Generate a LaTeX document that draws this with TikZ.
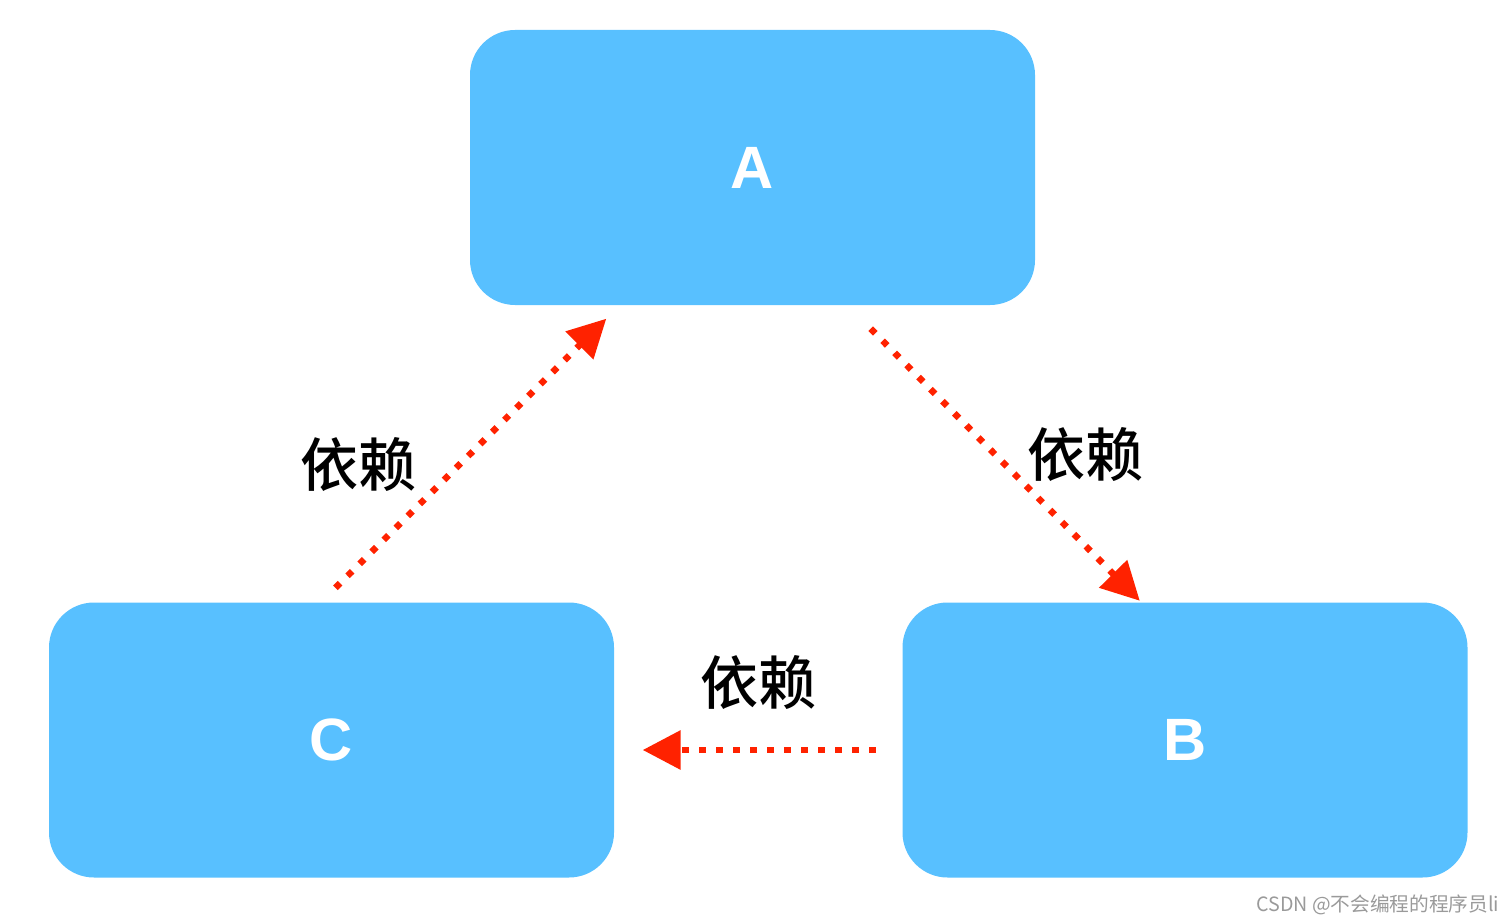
\documentclass[tikz,border=0pt]{standalone}
\usepackage{fontspec}
\setmainfont{Liberation Sans}
\newfontfamily\cjk{Noto Sans CJK SC}
\newfontfamily\cjkmed{Noto Sans CJK SC Medium}
\usetikzlibrary{arrows.meta}
\definecolor{boxblue}{HTML}{58C0FF}
\definecolor{depred}{HTML}{FF2200}
\definecolor{mark}{HTML}{9A9A9A}
\tikzset{
  box/.style={fill=boxblue, rounded corners=0.45cm, minimum width=5.65cm, minimum height=2.75cm, inner sep=0pt,
    text=white, font=\bfseries\fontsize{17}{20}\selectfont},
  dep/.style={draw=depred, line width=0.065cm, line cap=butt, dash pattern=on 0.065cm off 0.105cm,
    -{Triangle[length=0.38cm,width=0.38cm]}},
  lab/.style={text=black, font=\cjkmed\fontsize{16.5}{20}\selectfont},
  wm/.style={text=mark, font=\cjk\fontsize{5.6}{7}\selectfont, anchor=east, inner sep=0pt},
}
\begin{document}
\begin{tikzpicture}
  \useasboundingbox (0,0) rectangle (15.04,-9.24);

  \node[box] (A) at (7.525,-1.675) {A};
  \node[box] (C) at (3.315,-7.40) {C};
  \node[box] (B) at (11.85,-7.40) {B};

  % arrow ends, a little off the boxes
  \coordinate (caS) at ([shift={(0.04,0.14)}]C.north);
  \coordinate (caE) at ([shift={(1.37,-0.13)}]A.south west);
  \coordinate (abS) at ([shift={(-1.65,-0.23)}]A.south east);
  \coordinate (abE) at ([shift={(2.38,0.01)}]B.north west);
  \coordinate (bcS) at ([shift={(-0.26,-0.10)}]B.west);
  \coordinate (bcE) at ([shift={(0.28,-0.10)}]C.east);

  \draw[dep] (caS) -- (caE);
  \draw[dep] (abS) -- (abE);
  \draw[dep] (bcS) -- (bcE);

  \node[lab] (labCA) at (3.58,-4.65) {依赖};
  \node[lab] (labAB) at (10.85,-4.55) {依赖};
  \node[lab] (labBC) at (7.58,-6.83) {依赖};

  \node[wm] (mark) at (15.0,-9.05) {CSDN @不会编程的程序员li};
\end{tikzpicture}
\end{document}
